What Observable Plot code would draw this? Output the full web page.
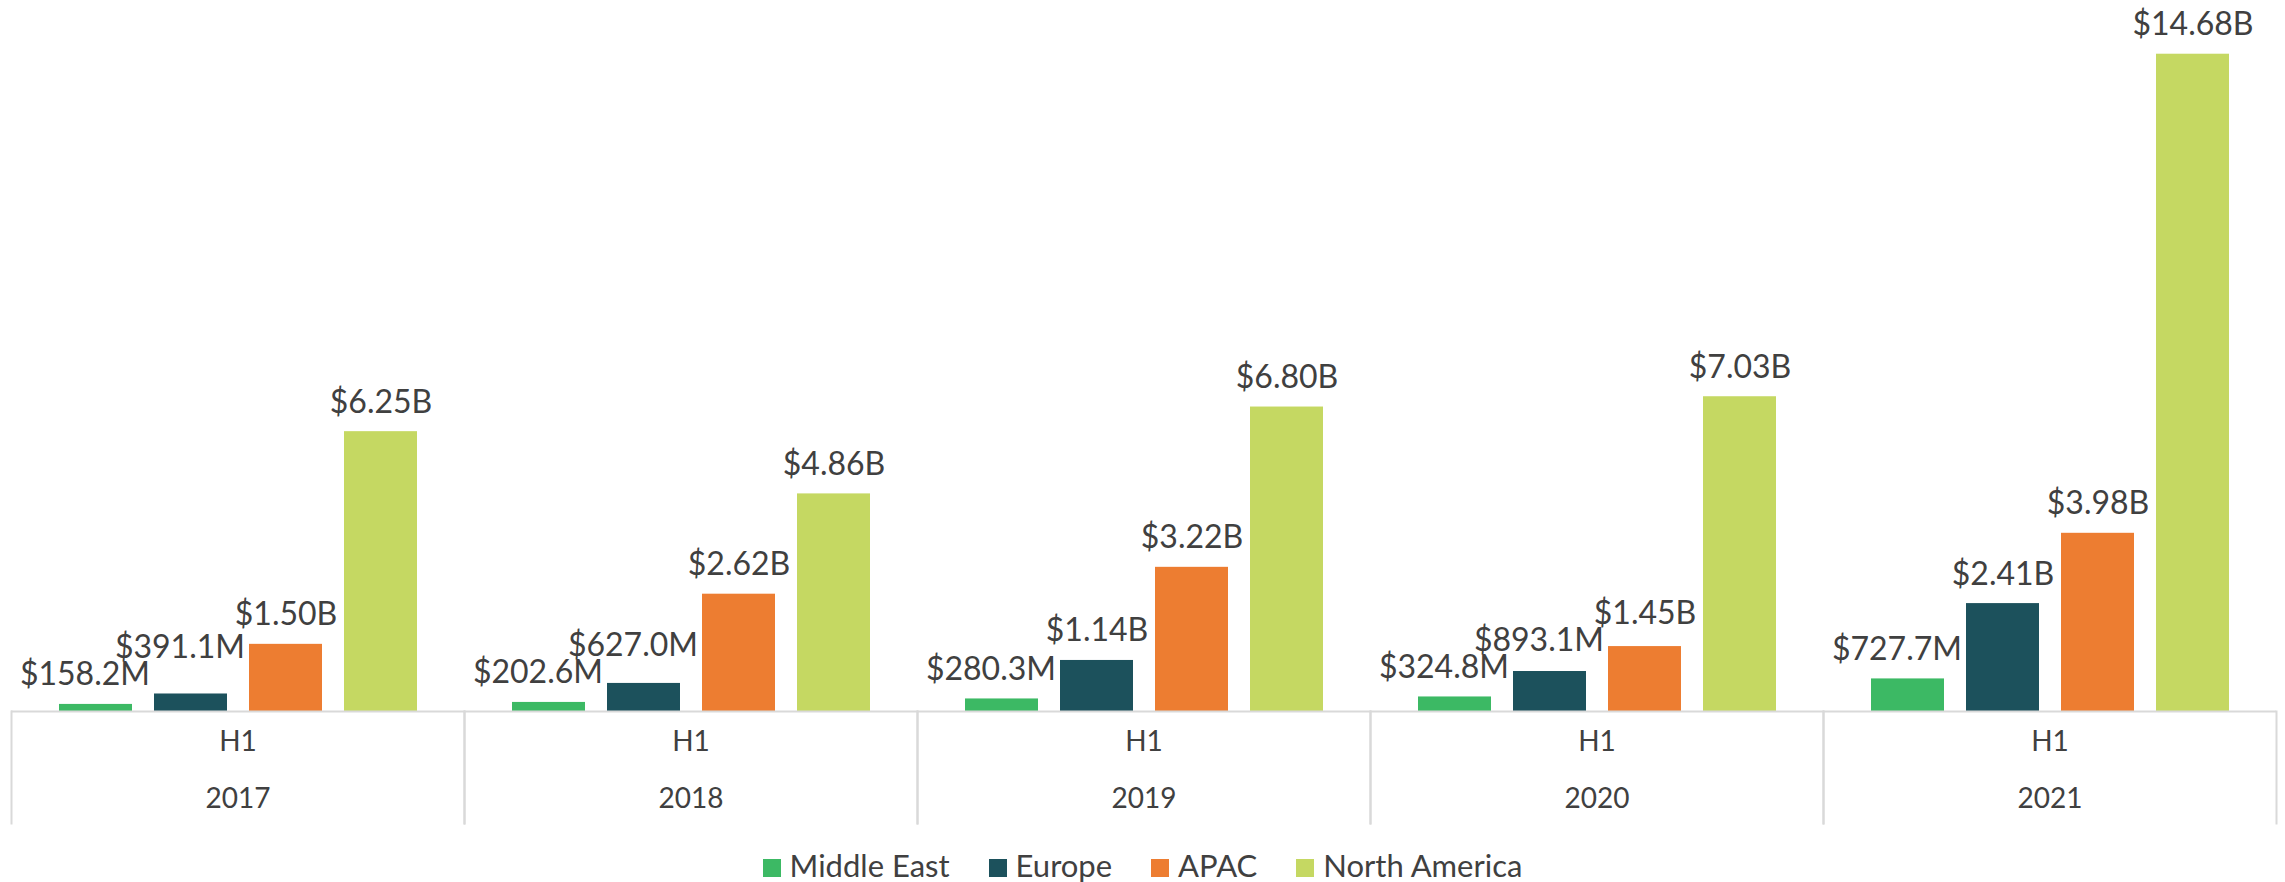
<!DOCTYPE html>
<html><head><meta charset="utf-8">
<script src="https://cdn.jsdelivr.net/npm/d3@7"></script>
<script src="https://cdn.jsdelivr.net/npm/@observablehq/plot@0.6"></script>
<style>
html,body{margin:0;padding:0;background:#fff;}
body{width:2285px;height:882px;overflow:hidden;font-family:Lato,sans-serif;}
#legend{display:flex;justify-content:center;align-items:center;height:34px;font-size:31px;color:#404040;line-height:34px;}
.item{display:flex;align-items:baseline;margin:0 19.5px;}
.sw{width:18px;height:18px;margin-right:9px;}
</style></head><body>
<div id="chart"></div><div id="legend"></div>
<script>
const years = ["2017","2018","2019","2020","2021"];
const regions = ["Middle East","Europe","APAC","North America"];
const colors = ["#3cb964","#1c515c","#ed7d31","#c5d862"];
const period = "H1";
// values in billions USD
const middleEast   = [0.1582, 0.2026, 0.2803, 0.3248, 0.7277];
const europe       = [0.3911, 0.6270, 1.14,   0.8931, 2.41];
const apac         = [1.50,   2.62,   3.22,   1.45,   3.98];
const northAmerica = [6.25,   4.86,   6.80,   7.03,   14.68];

const series = [middleEast, europe, apac, northAmerica];
const data = [];
years.forEach((yr, i) => regions.forEach((r, j) => data.push({year: yr, region: r, value: series[j][i]})));
const fmt = v => v < 1 ? "$" + (v * 1000).toFixed(1) + "M" : "$" + v.toFixed(2) + "B";

const W = 2285, H = 848, mT = 17, mB = 137;
const plotH = H - mT - mB;
const gridColor = "#d9d9d9", textColor = "#404040";

const chart = Plot.plot({
  width: W, height: H,
  marginTop: mT, marginBottom: mB, marginLeft: 10, marginRight: 9,
  style: {fontFamily: "Lato, sans-serif", background: "#fff", overflow: "visible"},
  fx: {domain: years, padding: 0, axis: null},
  x: {domain: regions, paddingInner: 0.236, paddingOuter: 0.488, axis: null},
  y: {domain: [0, 15.5], axis: null},
  color: {domain: regions, range: colors},
  marks: [
    Plot.barY(data, {fx: "year", x: "region", y: "value", fill: "region"}),
    Plot.ruleY([0], {stroke: gridColor, strokeWidth: 2}),
    Plot.frame({anchor: "left", stroke: gridColor, strokeWidth: 2, insetTop: plotH, insetBottom: -112}),
    Plot.frame({anchor: "right", stroke: gridColor, strokeWidth: 2, insetTop: plotH, insetBottom: -112}),
    Plot.text(years, {fx: d => d, text: () => period, frameAnchor: "bottom", dy: 39, fontSize: 28, fill: textColor}),
    Plot.text(years, {fx: d => d, text: d => d, frameAnchor: "bottom", dy: 96, fontSize: 28, fill: textColor}),
    Plot.text(data, {fx: "year", x: "region", y: "value", text: d => fmt(d.value), lineAnchor: "bottom", dy: -19, fontSize: 32, fill: textColor})
  ]
});
document.getElementById("chart").append(chart);

// label placement like the original: keep a label clear of the next bar,
// then lift labels that would collide with a label already placed
const fs = 32, pad = 4;
const shift = (t, dx, dy) => t.setAttribute("transform", (t.getAttribute("transform") || "") + ` translate(${dx},${dy})`);
const bars = Array.from(chart.querySelectorAll("rect")).filter(r => colors.includes(r.getAttribute("fill")));
const labels = Array.from(chart.querySelectorAll("text")).filter(t => t.textContent.startsWith("$"));
if (bars.length === data.length && labels.length === data.length) {
  data.forEach((d, k) => {
    if (regions.indexOf(d.region) < regions.length - 1) {
      const tr = labels[k].getBoundingClientRect();
      const nb = bars[k + 1].getBoundingClientRect();
      const over = tr.right - (nb.left - 4);
      if (over > 0) shift(labels[k], -over, 0);
    }
  });
}
const placed = [];
for (const t of labels) {
  let r = t.getBoundingClientRect();
  for (const q of placed) {
    if (r.left < q.right && r.right > q.left) {
      const limit = q.bottom - 0.72 * fs - pad;
      if (r.bottom > limit) {
        shift(t, 0, -(r.bottom - limit));
        r = t.getBoundingClientRect();
      }
    }
  }
  placed.push({left: r.left, right: r.right, bottom: r.bottom});
}

// legend
const legend = document.getElementById("legend");
regions.forEach((r, i) => {
  const it = document.createElement("div");
  it.className = "item";
  const sw = document.createElement("div");
  sw.className = "sw";
  sw.style.background = colors[i];
  const lb = document.createElement("span");
  lb.textContent = r;
  it.append(sw, lb);
  legend.append(it);
});
</script>
</body></html>
